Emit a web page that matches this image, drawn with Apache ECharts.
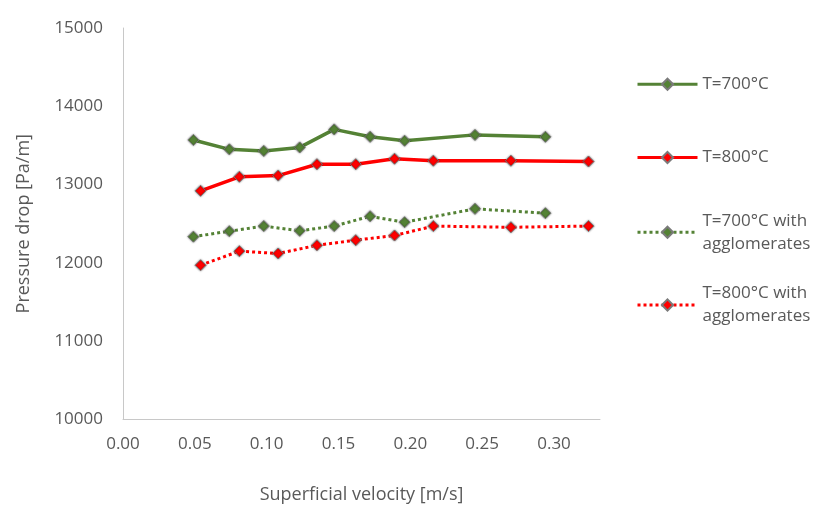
<!DOCTYPE html>
<html>
<head>
<meta charset="utf-8">
<script src="https://cdn.jsdelivr.net/npm/echarts@6/dist/echarts.min.js"></script>
<style>
  html, body { margin: 0; padding: 0; background: #ffffff; }
  #chart { width: 819px; height: 506px; }
</style>
</head>
<body>
<div id="chart"></div>
<script>
// Superficial velocity [m/s] for each test temperature
const velocity700 = [0.049, 0.074, 0.098, 0.123, 0.147, 0.172, 0.196, 0.245, 0.294];
const velocity800 = [0.054, 0.081, 0.108, 0.135, 0.162, 0.189, 0.216, 0.270, 0.324];

// Pressure drop [Pa/m]
const drop700 = [13570, 13450, 13430, 13475, 13705, 13610, 13560, 13635, 13610];
const drop800 = [12920, 13100, 13115, 13260, 13260, 13330, 13305, 13305, 13295];
const drop700Agg = [12335, 12405, 12470, 12410, 12470, 12595, 12520, 12690, 12635];
const drop800Agg = [11970, 12150, 12120, 12225, 12290, 12350, 12470, 12455, 12470];

const seriesNames = ['T=700°C', 'T=800°C', 'T=700°C with\nagglomerates', 'T=800°C with\nagglomerates'];
const xTicks = [0, 0.05, 0.10, 0.15, 0.20, 0.25, 0.30];
const yTicks = [10000, 11000, 12000, 13000, 14000, 15000];

const GREEN = '#548235';
const RED = '#ff0000';
const TEXT = '#595959';
const FONT = '"Open Sans", "Noto Sans", sans-serif';

function pairs(xs, ys) {
  return xs.map((x, i) => [x, ys[i]]);
}

function makeSeries(name, xs, ys, color, dotted) {
  return {
    name: name,
    type: 'line',
    data: pairs(xs, ys),
    symbol: 'diamond',
    symbolSize: 11,
    showAllSymbol: true,
    lineStyle: { color: color, width: dotted ? 3 : 3.5, type: dotted ? 'dotted' : 'solid', cap: 'butt' },
    itemStyle: {
      color: color,
      borderColor: '#7a7a7a',
      borderWidth: 1,
      shadowColor: 'rgba(0,0,0,0.45)',
      shadowBlur: 2
    },
    emphasis: { disabled: true },
    z: dotted ? 2 : 3
  };
}

function makeLegend(name, top, twoLines) {
  return {
    left: 636,
    top: top,
    orient: 'vertical',
    padding: 0,
    itemWidth: 60,
    itemHeight: 14,
    itemGap: 0,
    selectedMode: false,
    lineStyle: { width: 3 },
    data: [{
      name: name,
      textStyle: twoLines ? { padding: [23, 0, 0, 0] } : {}
    }],
    textStyle: { color: TEXT, fontFamily: FONT, fontSize: 17, lineHeight: 23, padding: [0, 0, 0, 0] }
  };
}

const chart = echarts.init(document.getElementById('chart'), null, { renderer: 'canvas' });

chart.setOption({
  backgroundColor: '#ffffff',
  animation: false,
  grid: { left: 123, right: 219, top: 28, bottom: 86.5, containLabel: false, outerBoundsMode: 'none' },
  legend: [
    makeLegend(seriesNames[0], 72.8, false),
    makeLegend(seriesNames[1], 146, false),
    makeLegend(seriesNames[2], 197.8, true),
    makeLegend(seriesNames[3], 270.5, true)
  ],
  xAxis: {
    type: 'value',
    min: 0,
    max: 0.332,
    interval: 0.05,
    name: 'Superficial velocity [m/s]',
    nameLocation: 'middle',
    nameGap: 66,
    nameTextStyle: { color: TEXT, fontFamily: FONT, fontSize: 18 },
    axisLine: { show: true, lineStyle: { color: '#c8c8c8', width: 1 } },
    axisTick: { show: false },
    splitLine: { show: false },
    axisLabel: {
      color: TEXT,
      fontFamily: FONT,
      fontSize: 17,
      margin: 16,
      showMaxLabel: false,
      formatter: function (v) {
        const hit = xTicks.find(t => Math.abs(t - v) < 1e-6);
        return hit === undefined ? '' : hit.toFixed(2);
      }
    }
  },
  yAxis: {
    type: 'value',
    min: yTicks[0],
    max: yTicks[yTicks.length - 1],
    interval: 1000,
    name: 'Pressure drop [Pa/m]',
    nameLocation: 'middle',
    nameGap: 90,
    nameTextStyle: { color: TEXT, fontFamily: FONT, fontSize: 18 },
    axisLine: { show: true, lineStyle: { color: '#c8c8c8', width: 1 } },
    axisTick: { show: false },
    splitLine: { show: false },
    axisLabel: {
      color: TEXT,
      fontFamily: FONT,
      fontSize: 17,
      margin: 20,
      formatter: function (v) { return String(v); }
    }
  },
  series: [
    makeSeries(seriesNames[0], velocity700, drop700, GREEN, false),
    makeSeries(seriesNames[1], velocity800, drop800, RED, false),
    makeSeries(seriesNames[2], velocity700, drop700Agg, GREEN, true),
    makeSeries(seriesNames[3], velocity800, drop800Agg, RED, true)
  ]
});
</script>
</body>
</html>
